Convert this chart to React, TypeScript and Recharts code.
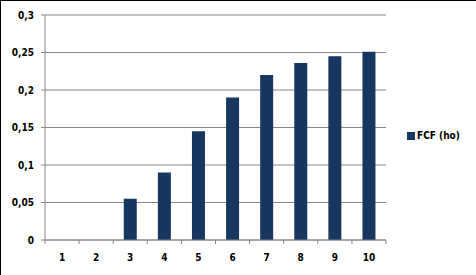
import React from "react";
import { BarChart, Bar, XAxis, YAxis, CartesianGrid, Legend } from "recharts";

const categories = ["1", "2", "3", "4", "5", "6", "7", "8", "9", "10"];
const fcfHo = [0, 0, 0.055, 0.09, 0.145, 0.19, 0.22, 0.236, 0.245, 0.251];
const yTicks = [0, 0.05, 0.1, 0.15, 0.2, 0.25, 0.3];
const seriesName = "FCF (ho)";

const data = categories.map((c, i) => ({ cat: c, value: fcfHo[i] }));

const FONT = "'DejaVu Sans Condensed', 'DejaVu Sans', Tahoma, sans-serif";
const GRID = "#868686";
const BAR = "#17375E";

const XTick = (props: any) => {
  const { x, y, payload, index, visibleTicksCount } = props;
  const off = payload.offset || 0;
  const axisY = y - 14;
  const isLast = index === visibleTicksCount - 1;
  return (
    <g>
      <line x1={x - off} x2={x - off} y1={axisY} y2={axisY + 4} stroke={GRID} />
      {isLast && <line x1={x + off} x2={x + off} y1={axisY} y2={axisY + 4} stroke={GRID} />}
      <text
        x={x}
        y={y}
        dy="0.71em"
        textAnchor="middle"
        fontFamily={FONT}
        fontWeight="bold"
        fontSize={10}
        fill="#000"
      >
        {payload.value}
      </text>
    </g>
  );
};

const LegendContent = () => (
  <div style={{ display: "flex", alignItems: "center", fontFamily: FONT, fontWeight: "bold", fontSize: 10, color: "#000" }}>
    <span style={{ display: "inline-block", width: 8, height: 8, background: BAR, marginRight: 2 }} />
    <span>{seriesName}</span>
  </div>
);

export default function App() {
  return (
    <div style={{ position: "absolute", left: 0, top: 0, width: 476, height: 275, background: "#fff" }}>
      <BarChart
        width={476}
        height={275}
        data={data}
        margin={{ top: 15, right: 90, bottom: 0, left: 0 }}
        barCategoryGap="31%"
      >
        <CartesianGrid horizontal vertical={false} stroke={GRID} strokeDasharray="" />
        <XAxis
          dataKey="cat"
          height={35}
          axisLine={{ stroke: GRID }}
          tickLine={false}
          tickSize={4}
          tickMargin={10}
          interval={0}
          tick={<XTick />}
        />
        <YAxis
          width={45}
          domain={[0, 0.3]}
          ticks={yTicks}
          interval={0}
          axisLine={{ stroke: GRID }}
          tickLine={{ stroke: GRID }}
          tickSize={4}
          tickMargin={7}
          tickFormatter={(v: number) => String(v).replace(".", ",")}
          tick={{ fontFamily: FONT, fontWeight: "bold", fontSize: 10, fill: "#000" }}
        />
        <Legend
          content={<LegendContent />}
          wrapperStyle={{ position: "absolute", left: 407, top: 130, width: 70, height: 0, overflow: "visible" }}
        />
        <Bar dataKey="value" name={seriesName} fill={BAR} isAnimationActive={false} />
      </BarChart>
      <div
        style={{
          position: "absolute",
          left: 0,
          top: 0,
          width: 476,
          height: 275,
          borderTop: "1px solid #000",
          borderLeft: "1px solid #000",
          boxSizing: "border-box",
          pointerEvents: "none",
        }}
      />
    </div>
  );
}
